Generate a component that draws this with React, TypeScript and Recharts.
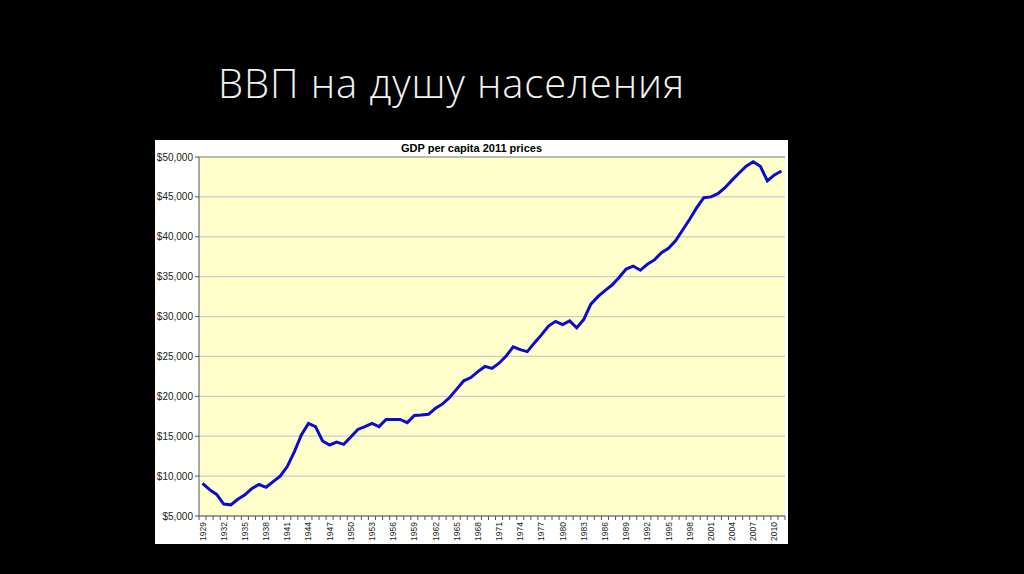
import React from "react";
import {
  LineChart,
  Line,
  XAxis,
  YAxis,
  CartesianGrid,
  ReferenceLine,
} from "recharts";

const years: number[] = [
  1929, 1930, 1931, 1932, 1933, 1934, 1935, 1936, 1937, 1938,
  1939, 1940, 1941, 1942, 1943, 1944, 1945, 1946, 1947, 1948,
  1949, 1950, 1951, 1952, 1953, 1954, 1955, 1956, 1957, 1958,
  1959, 1960, 1961, 1962, 1963, 1964, 1965, 1966, 1967, 1968,
  1969, 1970, 1971, 1972, 1973, 1974, 1975, 1976, 1977, 1978,
  1979, 1980, 1981, 1982, 1983, 1984, 1985, 1986, 1987, 1988,
  1989, 1990, 1991, 1992, 1993, 1994, 1995, 1996, 1997, 1998,
  1999, 2000, 2001, 2002, 2003, 2004, 2005, 2006, 2007, 2008,
  2009, 2010, 2011,
];

const gdpPerCapita: number[] = [
  9100, 8300, 7700, 6500, 6400, 7100, 7650, 8450, 8950, 8600,
  9300, 10000, 11200, 13050, 15150, 16600, 16200, 14400, 13900, 14270,
  13980, 14900, 15850, 16200, 16600, 16200, 17100, 17100, 17100, 16700,
  17600, 17650, 17750, 18500, 19050, 19850, 20900, 21950, 22350, 23100,
  23750, 23500, 24150, 25050, 26200, 25850, 25600, 26700, 27700, 28800,
  29400, 29000, 29450, 28600, 29650, 31550, 32500, 33250, 33950, 34900,
  35950, 36330, 35800, 36550, 37100, 38000, 38550, 39500, 40850, 42200,
  43650, 44900, 45000, 45400, 46150, 47100, 48000, 48850, 49400, 48850,
  47000, 47750, 48250,
];

const yTicks: number[] = [5000, 10000, 15000, 20000, 25000, 30000, 35000, 40000, 45000, 50000];

const pageTitle = "ВВП на душу населения";
const chartTitle = "GDP per capita 2011 prices";

const data = years.map((y, i) => ({ year: y, gdp: gdpPerCapita[i] }));

const FONT = "Arial, 'Liberation Sans', sans-serif";
const HALF_STEP = 3.53;
const LABEL_EVERY = 3;

const XTick = (props: any) => {
  const { x, y, index } = props;
  const isLast = index === years.length - 1;
  return (
    <g>
      <line x1={x - HALF_STEP} y1={y} x2={x - HALF_STEP} y2={y + 4} stroke="#555" strokeWidth={1} />
      {isLast && (
        <line x1={x + HALF_STEP} y1={y} x2={x + HALF_STEP} y2={y + 4} stroke="#555" strokeWidth={1} />
      )}
      {index % LABEL_EVERY === 0 && (
        <g transform={`translate(${x},${y + 6})`}>
          <text
            x={0}
            y={0}
            transform="rotate(-90)"
            textAnchor="end"
            dominantBaseline="central"
            fontSize={8.5}
            fontFamily={FONT}
            fill="#222"
          >
            {props.payload.value}
          </text>
        </g>
      )}
    </g>
  );
};

const fmt = (v: number) => "$" + v.toLocaleString("en-US");

export default function App() {
  return (
    <div
      style={{
        position: "fixed",
        left: 0,
        top: 0,
        width: 1024,
        height: 574,
        background: "#000",
        overflow: "hidden",
      }}
    >
      <div
        style={{
          position: "absolute",
          left: 218,
          top: 63,
          fontFamily: "'Open Sans', sans-serif",
          fontWeight: 300,
          fontSize: 40,
          letterSpacing: "0.9px",
          lineHeight: "40px",
          color: "#f2f2f2",
          whiteSpace: "nowrap",
        }}
      >
        {pageTitle}
      </div>
      <div
        style={{
          position: "absolute",
          left: 155,
          top: 140,
          width: 633,
          height: 404,
          background: "#fff",
        }}
      >
        <div
          style={{
            position: "absolute",
            left: 0,
            top: 0,
            width: 633,
            textAlign: "center",
            fontFamily: FONT,
            fontWeight: "bold",
            fontSize: 11,
            lineHeight: "17px",
            color: "#000",
          }}
        >
          {chartTitle}
        </div>
        <LineChart
          width={633}
          height={404}
          data={data}
          margin={{ top: 17, right: 3, bottom: 0, left: 0 }}
        >
          <CartesianGrid
            vertical={false}
            stroke="#cccccc"
            strokeWidth={1.2}
            fill="#ffffcc"
            yAxisId="left"
          />
          <XAxis
            dataKey="year"
            interval={0}
            tickLine={false}
            tickSize={0}
            tickMargin={0}
            height={28}
            padding={{ left: HALF_STEP, right: HALF_STEP }}
            axisLine={{ stroke: "#555" }}
            tick={<XTick />}
          />
          <YAxis
            yAxisId="left"
            domain={[5000, 50000]}
            ticks={yTicks}
            width={44}
            tickSize={4}
            tickMargin={2}
            tickFormatter={fmt}
            axisLine={{ stroke: "#555" }}
            tickLine={{ stroke: "#555" }}
            tick={{ fontSize: 10, fontFamily: FONT, fill: "#222" }}
          />
          <YAxis
            yAxisId="right"
            orientation="right"
            domain={[5000, 50000]}
            width={0}
            tick={false}
            tickLine={false}
            axisLine={{ stroke: "#909090" }}
          />
          <ReferenceLine yAxisId="left" y={50000} stroke="#909090" />
          <Line
            yAxisId="left"
            type="linear"
            dataKey="gdp"
            stroke="#0a0ad0"
            strokeWidth={3}
            dot={false}
            isAnimationActive={false}
          />
        </LineChart>
      </div>
    </div>
  );
}
